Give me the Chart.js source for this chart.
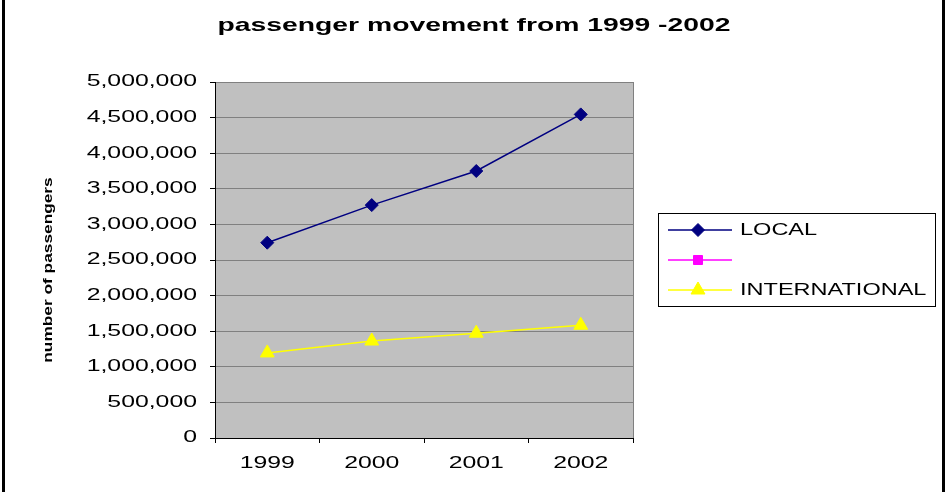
<!DOCTYPE html>
<html>
<head>
<meta charset="utf-8">
<script src="https://cdn.jsdelivr.net/npm/chart.js"></script>
<style>
    html, body {
        margin: 0;
        padding: 0;
        background: #ffffff;
    }
    #wrap {
        width: 949px;
        height: 492px;
    }
</style>
</head>
<body>
<div id="wrap"><canvas id="chart" width="949" height="492"></canvas></div>
<script>
// values
const years = ['1999', '2000', '2001', '2002'];
const localPassengers = [2743000, 3271000, 3750000, 4545000];
const blankSeries = [null, null, null, null];
const internationalPassengers = [1195000, 1362000, 1472000, 1584000];
const seriesNames = ['LOCAL', '', 'INTERNATIONAL'];
const yTicks = [0, 500000, 1000000, 1500000, 2000000, 2500000, 3000000, 3500000, 4000000, 4500000, 5000000];

const chartTitle = 'passenger movement from 1999 -2002';
const yAxisTitle = 'number of passengers';

const FONT = '"Liberation Sans", Arial, sans-serif';

// the original export has wide, horizontally stretched lettering;
// fillText is wrapped so every label can be stretched around its anchor
function stretchText(ctx) {
    const plain = ctx.fillText;
    ctx.textStretch = 1;
    ctx.fillText = function(text, x, y, maxWidth) {
        this.save();
        this.translate(x, y);
        this.scale(this.textStretch || 1, 1);
        if (maxWidth === undefined) {
            plain.call(this, text, 0, 0);
        } else {
            plain.call(this, text, 0, 0, maxWidth);
        }
        this.restore();
    };
}

// small helper for the legend markers
function drawMarker(ctx, style, x, y, r, fill, stroke) {
    ctx.save();
    ctx.fillStyle = fill;
    ctx.strokeStyle = stroke;
    ctx.lineWidth = 1;
    ctx.beginPath();
    if (style === 'rectRot') {
        ctx.moveTo(x - r, y);
        ctx.lineTo(x, y - r);
        ctx.lineTo(x + r, y);
        ctx.lineTo(x, y + r);
    } else if (style === 'rect') {
        ctx.rect(x - r * 0.75, y - r * 0.75, r * 1.5, r * 1.5);
    } else {
        ctx.moveTo(x, y - r);
        ctx.lineTo(x + r * 0.87, y + r * 0.5);
        ctx.lineTo(x - r * 0.87, y + r * 0.5);
    }
    ctx.closePath();
    ctx.fill();
    ctx.stroke();
    ctx.restore();
}

const sheetPlugin = {
    id: 'sheet',
    beforeInit(chart) {
        stretchText(chart.ctx);
    },
    beforeDraw(chart) {
        const ctx = chart.ctx;
        const a = chart.chartArea;
        ctx.save();
        ctx.fillStyle = '#ffffff';
        ctx.fillRect(0, 0, chart.width, chart.height);
        ctx.fillStyle = '#c0c0c0';
        ctx.fillRect(a.left, a.top, a.right - a.left, a.bottom - a.top);
        ctx.restore();
        // tick labels
        ctx.textStretch = 1.55;
    },
    beforeDatasetsDraw(chart) {
        const ctx = chart.ctx;
        const a = chart.chartArea;
        ctx.save();
        ctx.strokeStyle = '#808080';
        ctx.lineWidth = 1;
        ctx.beginPath();
        ctx.moveTo(a.right + 0.5, a.top);
        ctx.lineTo(a.right + 0.5, a.bottom);
        ctx.stroke();
        ctx.restore();
    },
    afterDraw(chart) {
        const ctx = chart.ctx;
        ctx.save();

        // title
        ctx.fillStyle = '#000000';
        ctx.textStretch = 1.49;
        ctx.font = 'bold 19px ' + FONT;
        ctx.textAlign = 'center';
        ctx.textBaseline = 'middle';
        ctx.fillText(chartTitle, 474, 26);

        // y axis title
        ctx.save();
        ctx.translate(48, 270);
        ctx.rotate(-Math.PI / 2);
        ctx.textStretch = 1.33;
        ctx.font = 'bold 13px ' + FONT;
        ctx.fillText(yAxisTitle, 0, 0);
        ctx.restore();

        // legend
        const box = { x: 658, y: 213, w: 277, h: 93 };
        ctx.strokeStyle = '#000000';
        ctx.lineWidth = 1;
        ctx.strokeRect(box.x + 0.5, box.y + 0.5, box.w, box.h);
        ctx.textStretch = 1.47;
        ctx.font = '16px ' + FONT;
        ctx.textAlign = 'left';
        chart.data.datasets.forEach((ds, i) => {
            const y = 230 + i * 30;
            ctx.strokeStyle = ds.borderColor;
            ctx.lineWidth = ds.borderWidth;
            ctx.beginPath();
            ctx.moveTo(668, y);
            ctx.lineTo(732, y);
            ctx.stroke();
            drawMarker(ctx, ds.pointStyle, 698, y, ds.pointRadius, ds.pointBackgroundColor, ds.pointBorderColor);
            ctx.fillStyle = '#000000';
            ctx.fillText(ds.label, 740, y + 1);
        });

        // frame lines at the sides
        ctx.strokeStyle = '#000000';
        ctx.lineWidth = 3;
        ctx.beginPath();
        ctx.moveTo(3.5, 0);
        ctx.lineTo(3.5, chart.height);
        ctx.moveTo(943.5, 0);
        ctx.lineTo(943.5, chart.height);
        ctx.stroke();

        ctx.restore();
        ctx.textStretch = 1;
    }
};

const ctx = document.getElementById('chart');

new Chart(ctx, {
    type: 'line',
    data: {
        labels: years,
        datasets: [{
            label: seriesNames[0],
            data: localPassengers,
            borderColor: '#000080',
            borderWidth: 1.5,
            pointStyle: 'rectRot',
            pointRadius: 6.5,
            pointBackgroundColor: '#000080',
            pointBorderColor: '#000080',
            pointBorderWidth: 1
        }, {
            label: seriesNames[1],
            data: blankSeries,
            borderColor: '#ff00ff',
            borderWidth: 1.5,
            pointStyle: 'rect',
            pointRadius: 6,
            pointBackgroundColor: '#ff00ff',
            pointBorderColor: '#ff00ff',
            pointBorderWidth: 1
        }, {
            label: seriesNames[2],
            data: internationalPassengers,
            borderColor: '#ffff00',
            borderWidth: 1.5,
            pointStyle: 'triangle',
            pointRadius: 8,
            pointBackgroundColor: '#ffff00',
            pointBorderColor: '#ffff00',
            pointBorderWidth: 1
        }]
    },
    options: {
        responsive: false,
        animation: false,
        layout: {
            padding: { top: 82, right: 316, bottom: 0, left: 0 }
        },
        plugins: {
            legend: { display: false },
            title: { display: false },
            tooltip: { enabled: false }
        },
        scales: {
            x: {
                offset: true,
                grid: {
                    offset: true,
                    drawOnChartArea: false,
                    tickLength: 5,
                    tickColor: '#000000'
                },
                border: { color: '#000000', width: 1 },
                ticks: {
                    color: '#000000',
                    padding: 11,
                    maxRotation: 0,
                    font: { family: FONT, size: 16 }
                },
                afterFit(scale) {
                    scale.height = 54;
                }
            },
            y: {
                min: yTicks[0],
                max: yTicks[yTicks.length - 1],
                afterBuildTicks(scale) {
                    scale.ticks = yTicks.map(v => ({ value: v }));
                },
                grid: {
                    color: '#808080',
                    tickColor: '#000000',
                    tickLength: 5
                },
                border: { color: '#000000', width: 1 },
                ticks: {
                    color: '#000000',
                    padding: 13,
                    font: { family: FONT, size: 16 },
                    callback: v => v.toLocaleString('en-US')
                },
                afterFit(scale) {
                    scale.width = 215;
                }
            }
        }
    },
    plugins: [sheetPlugin]
});
</script>
</body>
</html>
